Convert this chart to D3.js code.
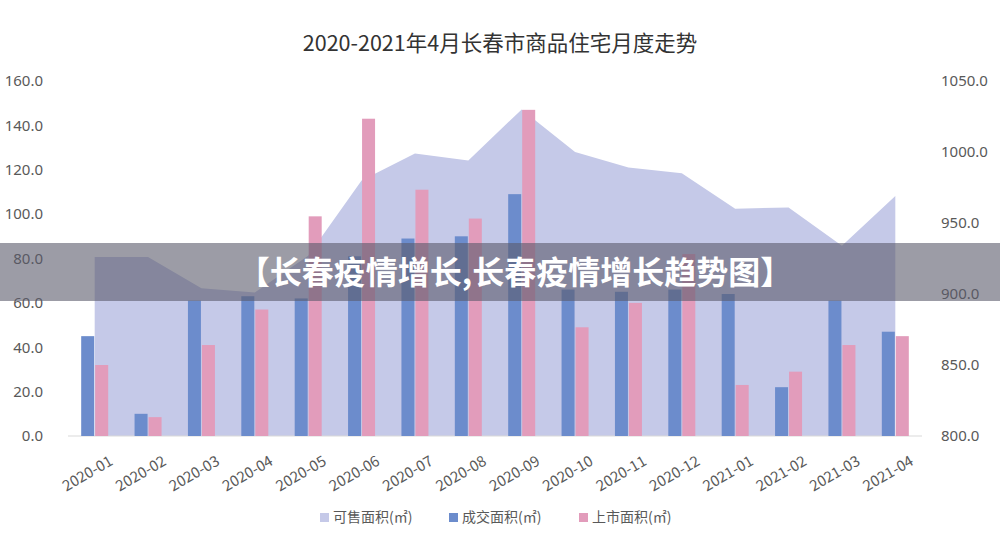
<!DOCTYPE html>
<html><head><meta charset="utf-8">
<script src="https://cdn.jsdelivr.net/npm/d3@7"></script>
<style>body{margin:0;background:#fff;font-family:"Noto Sans CJK SC","Noto Sans",sans-serif;}</style>
</head><body><svg id="c" width="1000" height="547"></svg>
<script>
// months along the x axis
var months = ['2020-01','2020-02','2020-03','2020-04','2020-05','2020-06','2020-07','2020-08',
	'2020-09','2020-10','2020-11','2020-12','2021-01','2021-02','2021-03','2021-04'];
// 可售面积 (right axis)
var forSale = [926,926,904,901,927,980,999,994,1030,1000,989,985,960,961,934,969];
// 成交面积 (left axis)
var sold = [45,10,61,63,62,81,89,90,109,66,65,66,64,22,61,47];
// 上市面积 (left axis)
var listed = [32,8.5,41,57,99,143,111,98,147,49,60,82,23,29,41,45];
var leftTicks = [0,20,40,60,80,100,120,140,160];
var rightTicks = [800,850,900,950,1000,1050];

var svg = d3.select('#c');
var m = {l:68, r:922, t:81, b:436};

var x = d3.scaleBand().domain(months).range([m.l, m.r]).paddingInner(0);
var yL = d3.scaleLinear().domain([0,160]).range([m.b, m.t]);
var yR = d3.scaleLinear().domain([800,1050]).range([m.b, m.t]);

svg.append('text').attr('x',500).attr('y',51).attr('text-anchor','middle')
	.attr('font-size',21.5).attr('fill','#333').text('2020-2021年4月长春市商品住宅月度走势');

// area
var cx = function(d,i){ return x(months[i]) + x.bandwidth()/2; };
svg.append('path').datum(forSale)
	.attr('fill','#c5c9e8')
	.attr('d', d3.area().x(cx).y0(m.b).y1(function(d){ return yR(d); }));

// baseline
svg.append('line').attr('x1',m.l).attr('x2',m.r).attr('y1',m.b).attr('y2',m.b)
	.attr('stroke','#d9d9d9');

var bw = 13;
svg.selectAll('.sold').data(sold).enter().append('rect')
	.attr('x', function(d,i){ return cx(d,i) - bw - 0.5; })
	.attr('y', function(d){ return yL(d); })
	.attr('width', bw).attr('height', function(d){ return m.b - yL(d); })
	.attr('fill','#6c8ccc');
svg.selectAll('.listed').data(listed).enter().append('rect')
	.attr('x', function(d,i){ return cx(d,i) + 0.5; })
	.attr('y', function(d){ return yL(d); })
	.attr('width', bw).attr('height', function(d){ return m.b - yL(d); })
	.attr('fill','#e29cbb');

// axes
var axL = svg.append('g').attr('transform','translate(46,0)')
	.call(d3.axisLeft(yL).tickValues(leftTicks).tickFormat(d3.format('.1f')).tickSize(0));
var axR = svg.append('g').attr('transform','translate(940,0)')
	.call(d3.axisRight(yR).tickValues(rightTicks).tickFormat(d3.format('.1f')).tickSize(0));
[axL, axR].forEach(function(a){
	a.select('.domain').remove();
	a.selectAll('text').attr('font-size',15).attr('fill','#595959')
		.attr('font-family','"Noto Sans",sans-serif');
});
axR.selectAll('text').attr('dx',-2);

svg.append('g').selectAll('text').data(months).enter().append('text')
	.attr('transform', function(d){ return 'translate(' + (x(d)+x.bandwidth()/2+14) + ',455) rotate(-30)'; })
	.attr('text-anchor','end').attr('dy','0.7em')
	.attr('font-size',15).attr('fill','#595959').text(function(d){ return d; });

// legend
var legend = [['可售面积(㎡)','#c5c9e8',320],['成交面积(㎡)','#6c8ccc',449],['上市面积(㎡)','#e29cbb',579]];
legend.forEach(function(l){
	svg.append('rect').attr('x',l[2]).attr('y',513).attr('width',9).attr('height',9).attr('fill',l[1]);
	svg.append('text').attr('x',l[2]+13).attr('y',522).attr('font-size',14).attr('fill','#595959').text(l[0]);
});

// overlay banner
svg.append('rect').attr('x',0).attr('y',243).attr('width',1000).attr('height',58)
	.attr('fill','#5a5a6a').attr('opacity',0.6);
svg.append('text').attr('x',515).attr('y',284).attr('text-anchor','middle')
	.attr('font-size',32).attr('font-weight','bold').attr('fill','#fff')
	.text('【长春疫情增长,长春疫情增长趋势图】');
</script></body></html>
